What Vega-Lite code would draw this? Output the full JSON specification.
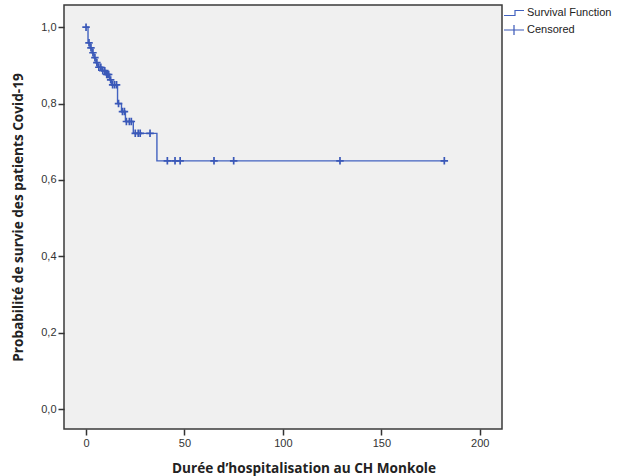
{
  "$schema": "https://vega.github.io/schema/vega-lite/v6.json",
  "width": 438,
  "height": 424,
  "autosize": {"type": "none"},
  "padding": {"left": 64, "top": 5, "right": 121, "bottom": 47},
  "background": "white",
  "config": {
    "view": {"fill": "#f0f0f0", "stroke": "#3a3a3a", "strokeWidth": 1.5},
    "axis": {
      "grid": false,
      "domain": false,
      "tickColor": "#333333",
      "tickSize": 6,
      "tickWidth": 1.5,
      "labelFont": "Liberation Sans",
      "labelFontSize": 11,
      "labelColor": "#333333",
      "labelPadding": 2,
      "titleFont": "Open Sans",
      "titleFontWeight": "bold",
      "titleFontSize": 13.6,
      "titleColor": "#222222"
    },
    "legend": {
      "orient": "none",
      "padding": 0,
      "labelFont": "Liberation Sans",
      "labelFontSize": 11,
      "labelColor": "#222222",
      "labelOffset": 2,
      "symbolSize": 400,
      "symbolStrokeWidth": 1.2
    }
  },
  "datasets": {
    "curve": [
      {"t": 0, "s": 1.0},
      {"t": 1, "s": 0.959},
      {"t": 2, "s": 0.946},
      {"t": 3, "s": 0.933},
      {"t": 4, "s": 0.92},
      {"t": 5, "s": 0.907},
      {"t": 6, "s": 0.895},
      {"t": 8, "s": 0.886},
      {"t": 10, "s": 0.876},
      {"t": 12, "s": 0.862},
      {"t": 13, "s": 0.849},
      {"t": 16, "s": 0.8},
      {"t": 18, "s": 0.779},
      {"t": 20, "s": 0.753},
      {"t": 24, "s": 0.722},
      {"t": 36, "s": 0.65},
      {"t": 182, "s": 0.65}
    ],
    "censored": [
      {"t": 0, "s": 1.0},
      {"t": 1.5, "s": 0.959},
      {"t": 2.5, "s": 0.946},
      {"t": 3.5, "s": 0.933},
      {"t": 4.5, "s": 0.92},
      {"t": 5.5, "s": 0.907},
      {"t": 6.5, "s": 0.895},
      {"t": 7.5, "s": 0.895},
      {"t": 8.5, "s": 0.886},
      {"t": 9.5, "s": 0.886},
      {"t": 10.5, "s": 0.876},
      {"t": 11, "s": 0.876},
      {"t": 11.5, "s": 0.876},
      {"t": 12.5, "s": 0.862},
      {"t": 13.5, "s": 0.849},
      {"t": 14.5, "s": 0.849},
      {"t": 15.5, "s": 0.849},
      {"t": 16.5, "s": 0.8},
      {"t": 18.5, "s": 0.779},
      {"t": 19.5, "s": 0.779},
      {"t": 20.5, "s": 0.753},
      {"t": 22, "s": 0.753},
      {"t": 23, "s": 0.753},
      {"t": 25, "s": 0.722},
      {"t": 26.5, "s": 0.722},
      {"t": 27.5, "s": 0.722},
      {"t": 32.5, "s": 0.722},
      {"t": 41.3, "s": 0.65},
      {"t": 45.2, "s": 0.65},
      {"t": 47.8, "s": 0.65},
      {"t": 65, "s": 0.65},
      {"t": 75, "s": 0.65},
      {"t": 129, "s": 0.65},
      {"t": 182, "s": 0.65}
    ]
  },
  "encoding": {
    "x": {
      "field": "t",
      "type": "quantitative",
      "scale": {"domain": [-11.2, 211.3], "nice": false, "zero": false},
      "axis": {
        "values": [0, 50, 100, 150, 200],
        "title": "Durée d’hospitalisation au CH Monkole",
        "titleX": 239.5,
        "titleY": 43,
        "titleBaseline": "alphabetic"
      }
    },
    "y": {
      "field": "s",
      "type": "quantitative",
      "scale": {"domain": [-0.052, 1.058], "nice": false, "zero": false},
      "axis": {
        "values": [0, 0.2, 0.4, 0.6, 0.8, 1],
        "labelExpr": "replace(format(datum.value, '.1f'), '.', ',')",
        "title": "Probabilité de survie des patients Covid-19",
        "titleX": -46,
        "titleY": 212,
        "titleBaseline": "middle",
        "titleAngle": -90
      }
    }
  },
  "layer": [
    {
      "data": {"name": "curve"},
      "mark": {"type": "line", "interpolate": "step-after", "strokeWidth": 1.4},
      "encoding": {
        "stroke": {
          "datum": "Survival Function",
          "scale": {"range": ["#4262c0"]},
          "legend": {
            "title": null,
            "legendX": 439,
            "legendY": -3,
            "symbolType": "M-1,0.25H0.1V-0.25H1",
            "encode": {"symbols": {"update": {"fill": {"value": "transparent"}, "stroke": {"value": "#4262c0"}}}}
          }
        }
      }
    },
    {
      "data": {"name": "censored"},
      "mark": {"type": "point", "shape": "M-1,0H1M0,-1V1", "size": 56, "filled": false, "strokeWidth": 1.7, "opacity": 1},
      "encoding": {
        "color": {
          "datum": "Censored",
          "scale": {"range": ["#3a58b8"]},
          "legend": {
            "title": null,
            "legendX": 439,
            "legendY": 14,
            "symbolType": "M-1,0H1M0,-0.5V0.5",
            "encode": {"symbols": {"update": {"fill": {"value": "transparent"}, "stroke": {"value": "#4262c0"}}}}
          }
        }
      }
    }
  ]
}
